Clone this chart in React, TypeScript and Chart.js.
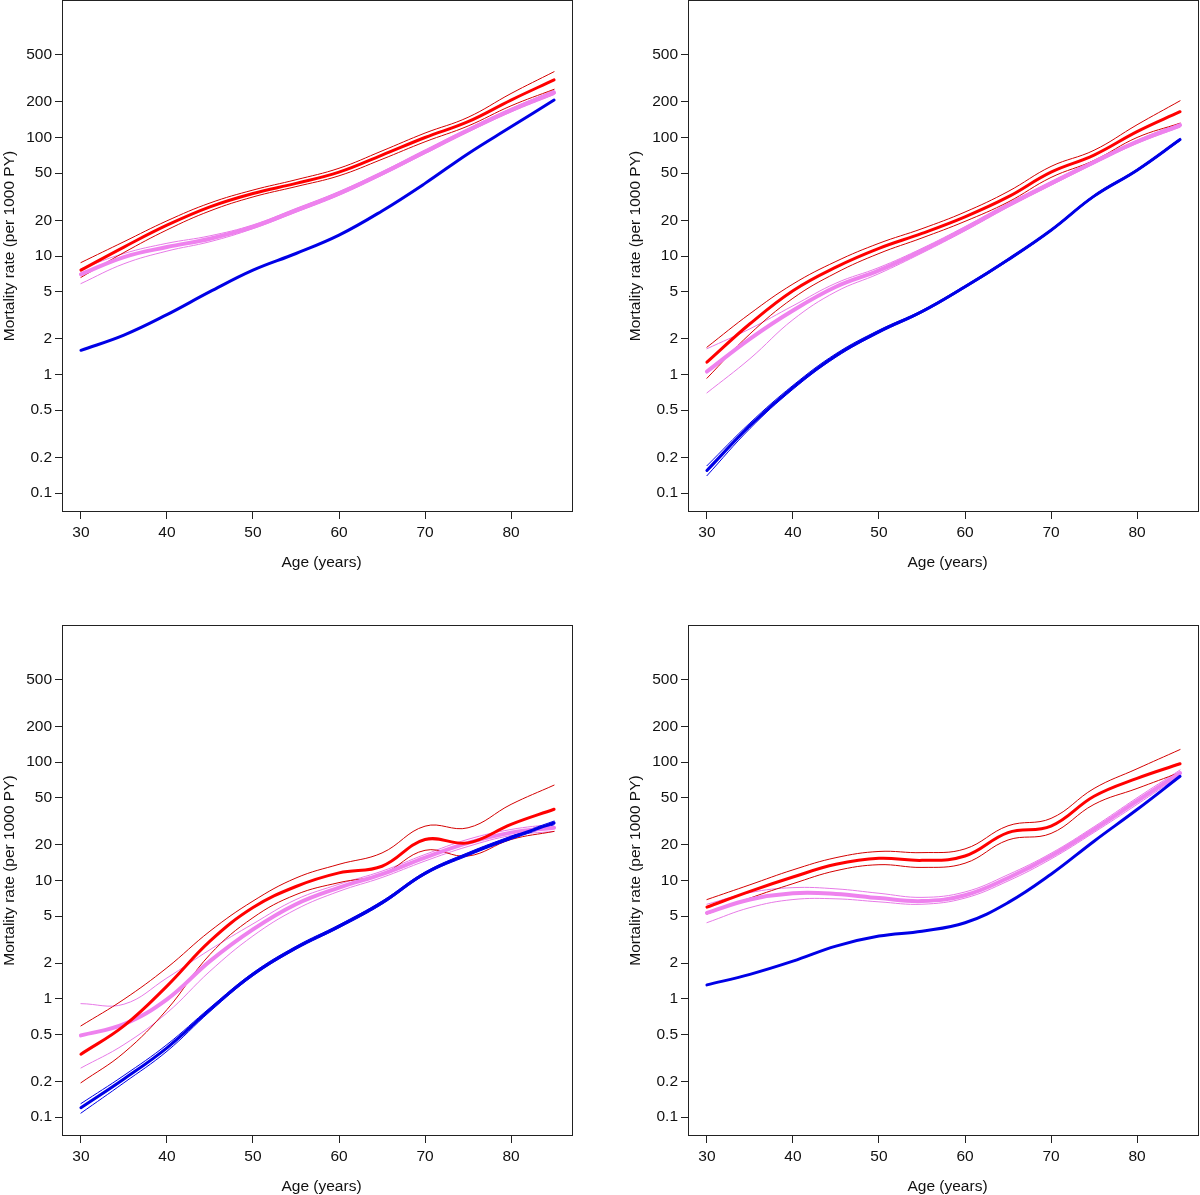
import React, { useEffect, useRef } from "react";
import { Chart, registerables } from "chart.js";

Chart.register(...registerables);

const FONT = '"Liberation Sans", Arial, Helvetica, sans-serif';

// ---- shared axis data ----
const AGES = [30, 35, 40, 45, 50, 55, 60, 65, 70, 75, 80, 85];
const X_TICKS = [30, 40, 50, 60, 70, 80];
const Y_TICKS = [0.1, 0.2, 0.5, 1, 2, 5, 10, 20, 50, 100, 200, 500];
const X_LABEL = "Age (years)";
const Y_LABEL = "Mortality rate (per 1000 PY)";

// ---- panel A (top-left) ----
const A_BLUE = [1.6, 2.15, 3.2, 5.0, 7.6, 10.5, 15, 24, 41, 73, 123, 207];
const A_RED = [7.6, 11.9, 18.2, 26, 33.7, 41, 51, 71, 100, 136, 207, 306];
const A_RED_HI = [8.8, 13.2, 19.8, 28, 36, 44, 55, 77, 109, 148, 235, 359];
const A_RED_LO = [6.6, 10.7, 16.6, 24, 31.5, 38.5, 47.5, 65.5, 92, 125, 185, 255];
const A_VIO = [7.0, 9.8, 11.9, 14, 17.6, 24.3, 33.7, 49.7, 75.7, 115, 170, 239];
const A_VIO_HI = [7.8, 10.5, 12.8, 14.8, 18.3, 25.2, 35, 51.5, 78.5, 119, 176, 250];
const A_VIO_LO = [5.85, 8.6, 11.0, 13.2, 17.0, 23.4, 32.5, 48, 73, 111, 164, 230];

// ---- panel B (top-right) ----
const B_BLUE = [0.155, 0.37, 0.78, 1.45, 2.3, 3.4, 5.5, 9.3, 16.5, 32, 53, 96];
const B_BLUE_HI = [0.17, 0.39, 0.81, 1.5, 2.37, 3.48, 5.63, 9.5, 16.8, 32.6, 54, 98];
const B_BLUE_LO = [0.14, 0.35, 0.75, 1.4, 2.24, 3.32, 5.38, 9.1, 16.2, 31.4, 52, 94];
const B_RED = [1.27, 2.68, 5.1, 8.06, 11.6, 15.5, 21.4, 31.5, 51, 71, 112, 165];
const B_RED_HI = [1.7, 3.26, 5.8, 9.0, 12.8, 17, 23.5, 35, 57, 78, 128, 204];
const B_RED_LO = [0.93, 2.2, 4.4, 7.2, 10.5, 14.2, 19.6, 28.5, 46, 64, 100, 132];
const B_VIO = [1.06, 2.0, 3.47, 5.5, 7.55, 11.1, 17, 26.8, 41, 62, 92, 127];
const B_VIO_HI = [1.65, 2.43, 3.8, 5.9, 8.0, 11.6, 17.7, 27.8, 42.5, 64, 95, 132];
const B_VIO_LO = [0.7, 1.36, 2.9, 5.0, 7.1, 10.6, 16.3, 25.8, 39.5, 60, 89, 122];

// ---- panel C (bottom-left) ----
const C_BLUE = [0.12, 0.21, 0.385, 0.81, 1.61, 2.7, 4.1, 6.5, 11.5, 16.7, 23, 30.7];
const C_BLUE_HI = [0.13, 0.225, 0.41, 0.84, 1.66, 2.78, 4.22, 6.7, 11.8, 17.2, 23.7, 31.8];
const C_BLUE_LO = [0.108, 0.195, 0.36, 0.78, 1.56, 2.62, 3.98, 6.3, 11.2, 16.2, 22.3, 29.6];
const C_RED = [0.34, 0.59, 1.28, 3.07, 5.9, 8.9, 11.6, 13.2, 22.2, 20.8, 29.8, 40];
const C_RED_HI = [0.59, 0.99, 1.83, 3.73, 6.7, 10.5, 13.7, 17.1, 28.8, 27.9, 44, 64];
const C_RED_LO = [0.195, 0.35, 0.81, 2.37, 4.85, 7.6, 9.6, 11.3, 18, 16.1, 22.2, 26];
const C_VIO = [0.49, 0.61, 0.99, 2.08, 3.86, 6.3, 8.7, 11.3, 15.6, 20.8, 25.4, 27.9];
const C_VIO_HI = [0.91, 0.9, 1.5, 2.6, 4.3, 6.9, 9.3, 12, 16.6, 22.3, 27, 30];
const C_VIO_LO = [0.26, 0.41, 0.76, 1.71, 3.4, 5.7, 8.1, 10.6, 14.6, 19.4, 24, 26];

// ---- panel D (bottom-right) ----
const D_BLUE = [1.31, 1.61, 2.08, 2.79, 3.39, 3.73, 4.39, 6.5, 11.3, 21.5, 39.8, 76];
const D_RED = [5.96, 8.1, 10.7, 13.7, 15.4, 14.8, 16.1, 25.4, 28.8, 51.5, 73, 97];
const D_RED_HI = [6.9, 9.2, 12.3, 15.6, 17.6, 17.2, 18.5, 29, 33.5, 60, 88, 128];
const D_RED_LO = [5.2, 7.1, 9.4, 12.1, 13.6, 12.9, 14.0, 22, 25, 44, 60, 82];
const D_VIO = [5.33, 6.9, 7.8, 7.7, 7.1, 6.7, 7.5, 10.5, 16.1, 27, 47, 81];
const D_VIO_HI = [6.3, 7.9, 8.7, 8.5, 7.8, 7.2, 8.0, 11.2, 17, 28.5, 50, 86];
const D_VIO_LO = [4.4, 5.9, 6.9, 7.0, 6.6, 6.3, 7.1, 9.9, 15.2, 25.5, 44, 77];

// ---- styles ----
const BLUE = "#0000e6";
const RED = "#ff0000";
const RED_THIN = "#d40000";
const VIOLET = "#ee82ee";
const VIOLET_THIN = "#e77ae7";

type Line = { data: number[]; color: string; width: number };

const thick = (data: number[], color: string, width = 3): Line => ({ data, color, width });
const thin = (data: number[], color: string): Line => ({ data, color, width: 1 });

type Panel = {
  left: number;
  top: number;
  width: number;
  height: number;
  padRight: number;
  axisH: number;
  lines: Line[];
};

const PANELS: Panel[] = [
  {
    left: 0, top: 0, width: 600, height: 597, padRight: 27, axisH: 85,
    lines: [
      thick(A_BLUE, BLUE), thick(A_RED, RED), thick(A_VIO, VIOLET, 4),
      thin(A_RED_HI, RED_THIN), thin(A_RED_LO, RED_THIN),
      thin(A_VIO_HI, VIOLET_THIN), thin(A_VIO_LO, VIOLET_THIN),
    ],
  },
  {
    left: 626, top: 0, width: 574, height: 597, padRight: 1, axisH: 85,
    lines: [
      thick(B_BLUE, BLUE), thick(B_RED, RED), thick(B_VIO, VIOLET, 4),
      thin(B_BLUE_HI, BLUE), thin(B_BLUE_LO, BLUE),
      thin(B_RED_HI, RED_THIN), thin(B_RED_LO, RED_THIN),
      thin(B_VIO_HI, VIOLET_THIN), thin(B_VIO_LO, VIOLET_THIN),
    ],
  },
  {
    left: 0, top: 625, width: 600, height: 570, padRight: 27, axisH: 59,
    lines: [
      thick(C_BLUE, BLUE), thick(C_RED, RED), thick(C_VIO, VIOLET, 4),
      thin(C_BLUE_HI, BLUE), thin(C_BLUE_LO, BLUE),
      thin(C_RED_HI, RED_THIN), thin(C_RED_LO, RED_THIN),
      thin(C_VIO_HI, VIOLET_THIN), thin(C_VIO_LO, VIOLET_THIN),
    ],
  },
  {
    left: 626, top: 625, width: 574, height: 570, padRight: 1, axisH: 59,
    lines: [
      thick(D_BLUE, BLUE), thick(D_RED, RED), thick(D_VIO, VIOLET, 4),
      thin(D_RED_HI, RED_THIN), thin(D_RED_LO, RED_THIN),
      thin(D_VIO_HI, VIOLET_THIN), thin(D_VIO_LO, VIOLET_THIN),
    ],
  },
];

const Y_MIN = Math.pow(10, -1.16);
const Y_MAX = Math.pow(10, 3.16);
const X_MIN = 27.8;
const X_MAX = 87.2;
const FONT_SIZE = 15.5;

const framePlugin = {
  id: "rframe",
  afterDraw(chart: any) {
    const { ctx, chartArea: a } = chart;
    ctx.save();
    ctx.strokeStyle = "#222";
    ctx.lineWidth = 1;
    ctx.strokeRect(a.left + 0.5, a.top + 0.5, a.right - a.left - 1, a.bottom - a.top - 1);
    ctx.fillStyle = "#111";
    ctx.font = `${FONT_SIZE}px ${FONT}`;
    ctx.textAlign = "center";
    ctx.textBaseline = "middle";
    ctx.fillText(X_LABEL, (a.left + a.right) / 2 + 4, a.bottom + 51);
    ctx.translate(9.5, (a.top + a.bottom) / 2 - 10);
    ctx.rotate(-Math.PI / 2);
    ctx.fillText(Y_LABEL, 0, 0);
    ctx.restore();
  },
};

function PanelChart({ p }: { p: Panel }) {
  const ref = useRef<HTMLCanvasElement | null>(null);
  useEffect(() => {
    if (!ref.current) return;
    const chart = new Chart(ref.current, {
      type: "line",
      data: {
        labels: AGES,
        datasets: p.lines.map((l) => ({
          data: AGES.map((age, i) => ({ x: age, y: l.data[i] })),
          borderColor: l.color,
          borderWidth: l.width,
          pointRadius: 0,
          fill: false,
          tension: 0.4,
          borderCapStyle: "round" as const,
          borderJoinStyle: "round" as const,
        })),
      },
      options: {
        animation: false,
        responsive: false,
        devicePixelRatio: 1,
        events: [],
        layout: { padding: { left: 0, top: 0, bottom: 0, right: p.padRight } },
        plugins: { legend: { display: false }, tooltip: { enabled: false }, title: { display: false } },
        scales: {
          x: {
            type: "linear",
            min: X_MIN,
            max: X_MAX,
            afterBuildTicks: (s: any) => {
              s.ticks = X_TICKS.map((v) => ({ value: v }));
            },
            afterFit: (s: any) => {
              s.height = p.axisH;
              s.paddingLeft = 0;
              s.paddingRight = 0;
              s.paddingTop = 0;
              s.paddingBottom = 0;
            },
            grid: { drawOnChartArea: false, drawTicks: true, tickLength: 7, tickColor: "#222", tickWidth: 1 },
            border: { display: false },
            ticks: {
              color: "#111",
              font: { size: FONT_SIZE, family: FONT },
              padding: 4,
              maxRotation: 0,
              minRotation: 0,
              autoSkip: false,
              callback: (v: any) => String(v),
            },
          },
          y: {
            type: "logarithmic",
            min: Y_MIN,
            max: Y_MAX,
            afterBuildTicks: (s: any) => {
              s.ticks = Y_TICKS.map((v) => ({ value: v }));
            },
            afterFit: (s: any) => {
              s.width = 62;
              s.paddingLeft = 0;
              s.paddingRight = 0;
              s.paddingTop = 0;
              s.paddingBottom = 0;
            },
            grid: { drawOnChartArea: false, drawTicks: true, tickLength: 7, tickColor: "#222", tickWidth: 1 },
            border: { display: false },
            ticks: {
              color: "#111",
              font: { size: FONT_SIZE, family: FONT },
              padding: 3,
              autoSkip: false,
              callback: (v: any) => String(v),
            },
          },
        },
      },
      plugins: [framePlugin],
    });
    return () => chart.destroy();
  }, [p]);
  return (
    <canvas
      ref={ref}
      width={p.width}
      height={p.height}
      style={{ position: "absolute", left: p.left, top: p.top, width: p.width, height: p.height }}
    />
  );
}

export default function App() {
  return (
    <div
      style={{
        position: "absolute",
        left: 0,
        top: 0,
        width: 1200,
        height: 1195,
        overflow: "hidden",
        background: "#ffffff",
      }}
    >
      {PANELS.map((p, i) => (
        <PanelChart key={i} p={p} />
      ))}
    </div>
  );
}
